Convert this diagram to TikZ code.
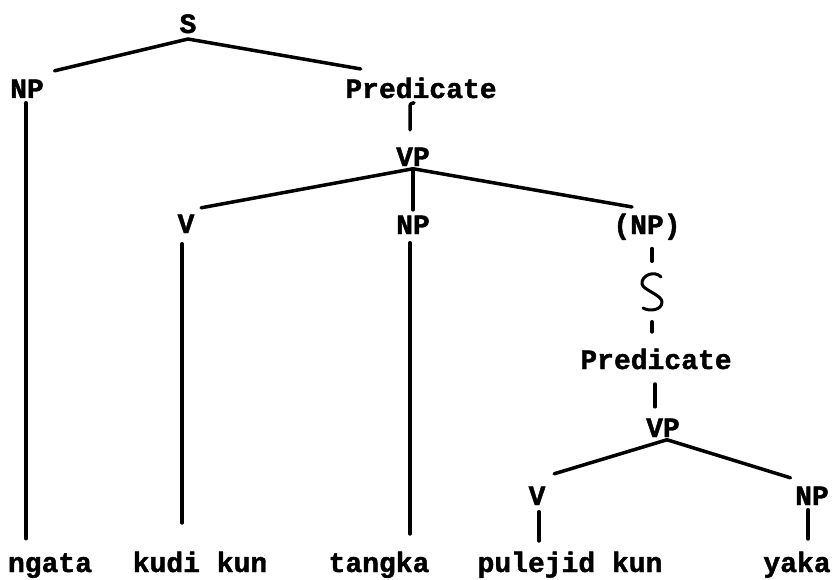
\documentclass[tikz,border=0pt]{standalone}
\usepackage{fontspec}
\setmonofont{Liberation Mono}[BoldFeatures={FakeBold=1.5}]
\begin{document}
\begin{tikzpicture}[x=1pt, y=-1pt, line join=round, line cap=round, line width=3.5pt,
  font=\ttfamily\bfseries\fontsize{28}{30}\selectfont,
  every node/.style={anchor=base, inner sep=1pt}]
\useasboundingbox (0,0) rectangle (834,580);
% upper tree
\node (s) at (188,33) {S};
\node (np1) at (27,98) {NP};
\node (pred1) at (421,98) {Predicate};
\node (vp1) at (413,166) {VP};
\node (v1) at (186,233) {V};
\node (np2) at (413,234) {NP};
\node (np3) at (647,234) {(NP)};
% embedded clause
\node[minimum width=20pt, minimum height=38pt, anchor=center] (s2) at (652,292) {};
\node (pred2) at (656,369) {Predicate};
\node (vp2) at (663,437) {VP};
\node (v2) at (537,505) {V};
\node (np4) at (812,505) {NP};
% words
\node (ngata) at (50,572) {ngata};
\node (kudi) at (200,572) {kudi kun};
\node (tangka) at (379,572) {tangka};
\node (pulejid) at (570,572) {pulejid kun};
\node (yaka) at (797,572) {yaka};
% branches
\draw ([yshift=-3pt]s.south) -- ([shift={(8pt,6pt)}]np1.north east);
\draw ([yshift=-3pt]s.south) -- ([shift={(18pt,6pt)}]pred1.north west);
\draw ([shift={(-3pt,15pt)}]vp1.north) -- ++(0,-21) .. controls +(0,-5) .. +(4,-6);
\draw (vp1.south) -- ([shift={(4pt,4pt)}]v1.north east);
\draw[shorten >=3pt] (vp1.south) -- (vp1.south |- np2.north);
\draw (vp1.south) -- ([shift={(-15pt,4pt)}]np3.north);
\draw[shorten <=6pt, shorten >=10pt] ([xshift=5pt]np3.south) -- ([xshift=5pt]np3.south |- s2.north);
\begin{scope}[shift={(s2.center)}, line width=3pt]
\draw (9,-15) .. controls (3,-22) and (-11,-17) .. (-10,-8)
  .. controls (-9,-2) and (10,3) .. (10,10) .. controls (10,18) and (-2,20) .. (-9,16);
\end{scope}
\draw[shorten <=9pt, shorten >=14pt] (s2.south) -- (s2.south |- pred2.north);
\draw[shorten <=12pt, shorten >=9pt] ([xshift=-1pt]pred2.south) -- ([xshift=-1pt]pred2.south |- vp2.north);
\draw ([xshift=4pt]vp2.south) -- ([shift={(6pt,10pt)}]v2.north east);
\draw ([xshift=4pt]vp2.south) -- ([shift={(-2pt,6pt)}]np4.north west);
% to the words
\draw[shorten <=2pt, shorten >=12pt] ([xshift=-1pt]np1.south) -- ([xshift=-1pt]np1.south |- ngata.north);
\draw[shorten <=8pt, shorten >=26pt] ([xshift=-4pt]v1.south) -- ([xshift=-4pt]v1.south |- kudi.north);
\draw[shorten <=6pt, shorten >=15pt] ([xshift=-3pt]np2.south) -- ([xshift=-3pt]np2.south |- tangka.north);
\draw[shorten <=4pt, shorten >=8pt] ([xshift=2pt]v2.south) -- ([xshift=2pt]v2.south |- pulejid.north);
\draw[shorten <=2pt, shorten >=10pt] ([xshift=-4pt]np4.south) -- ([xshift=-4pt]np4.south |- yaka.north);
\end{tikzpicture}
\end{document}
